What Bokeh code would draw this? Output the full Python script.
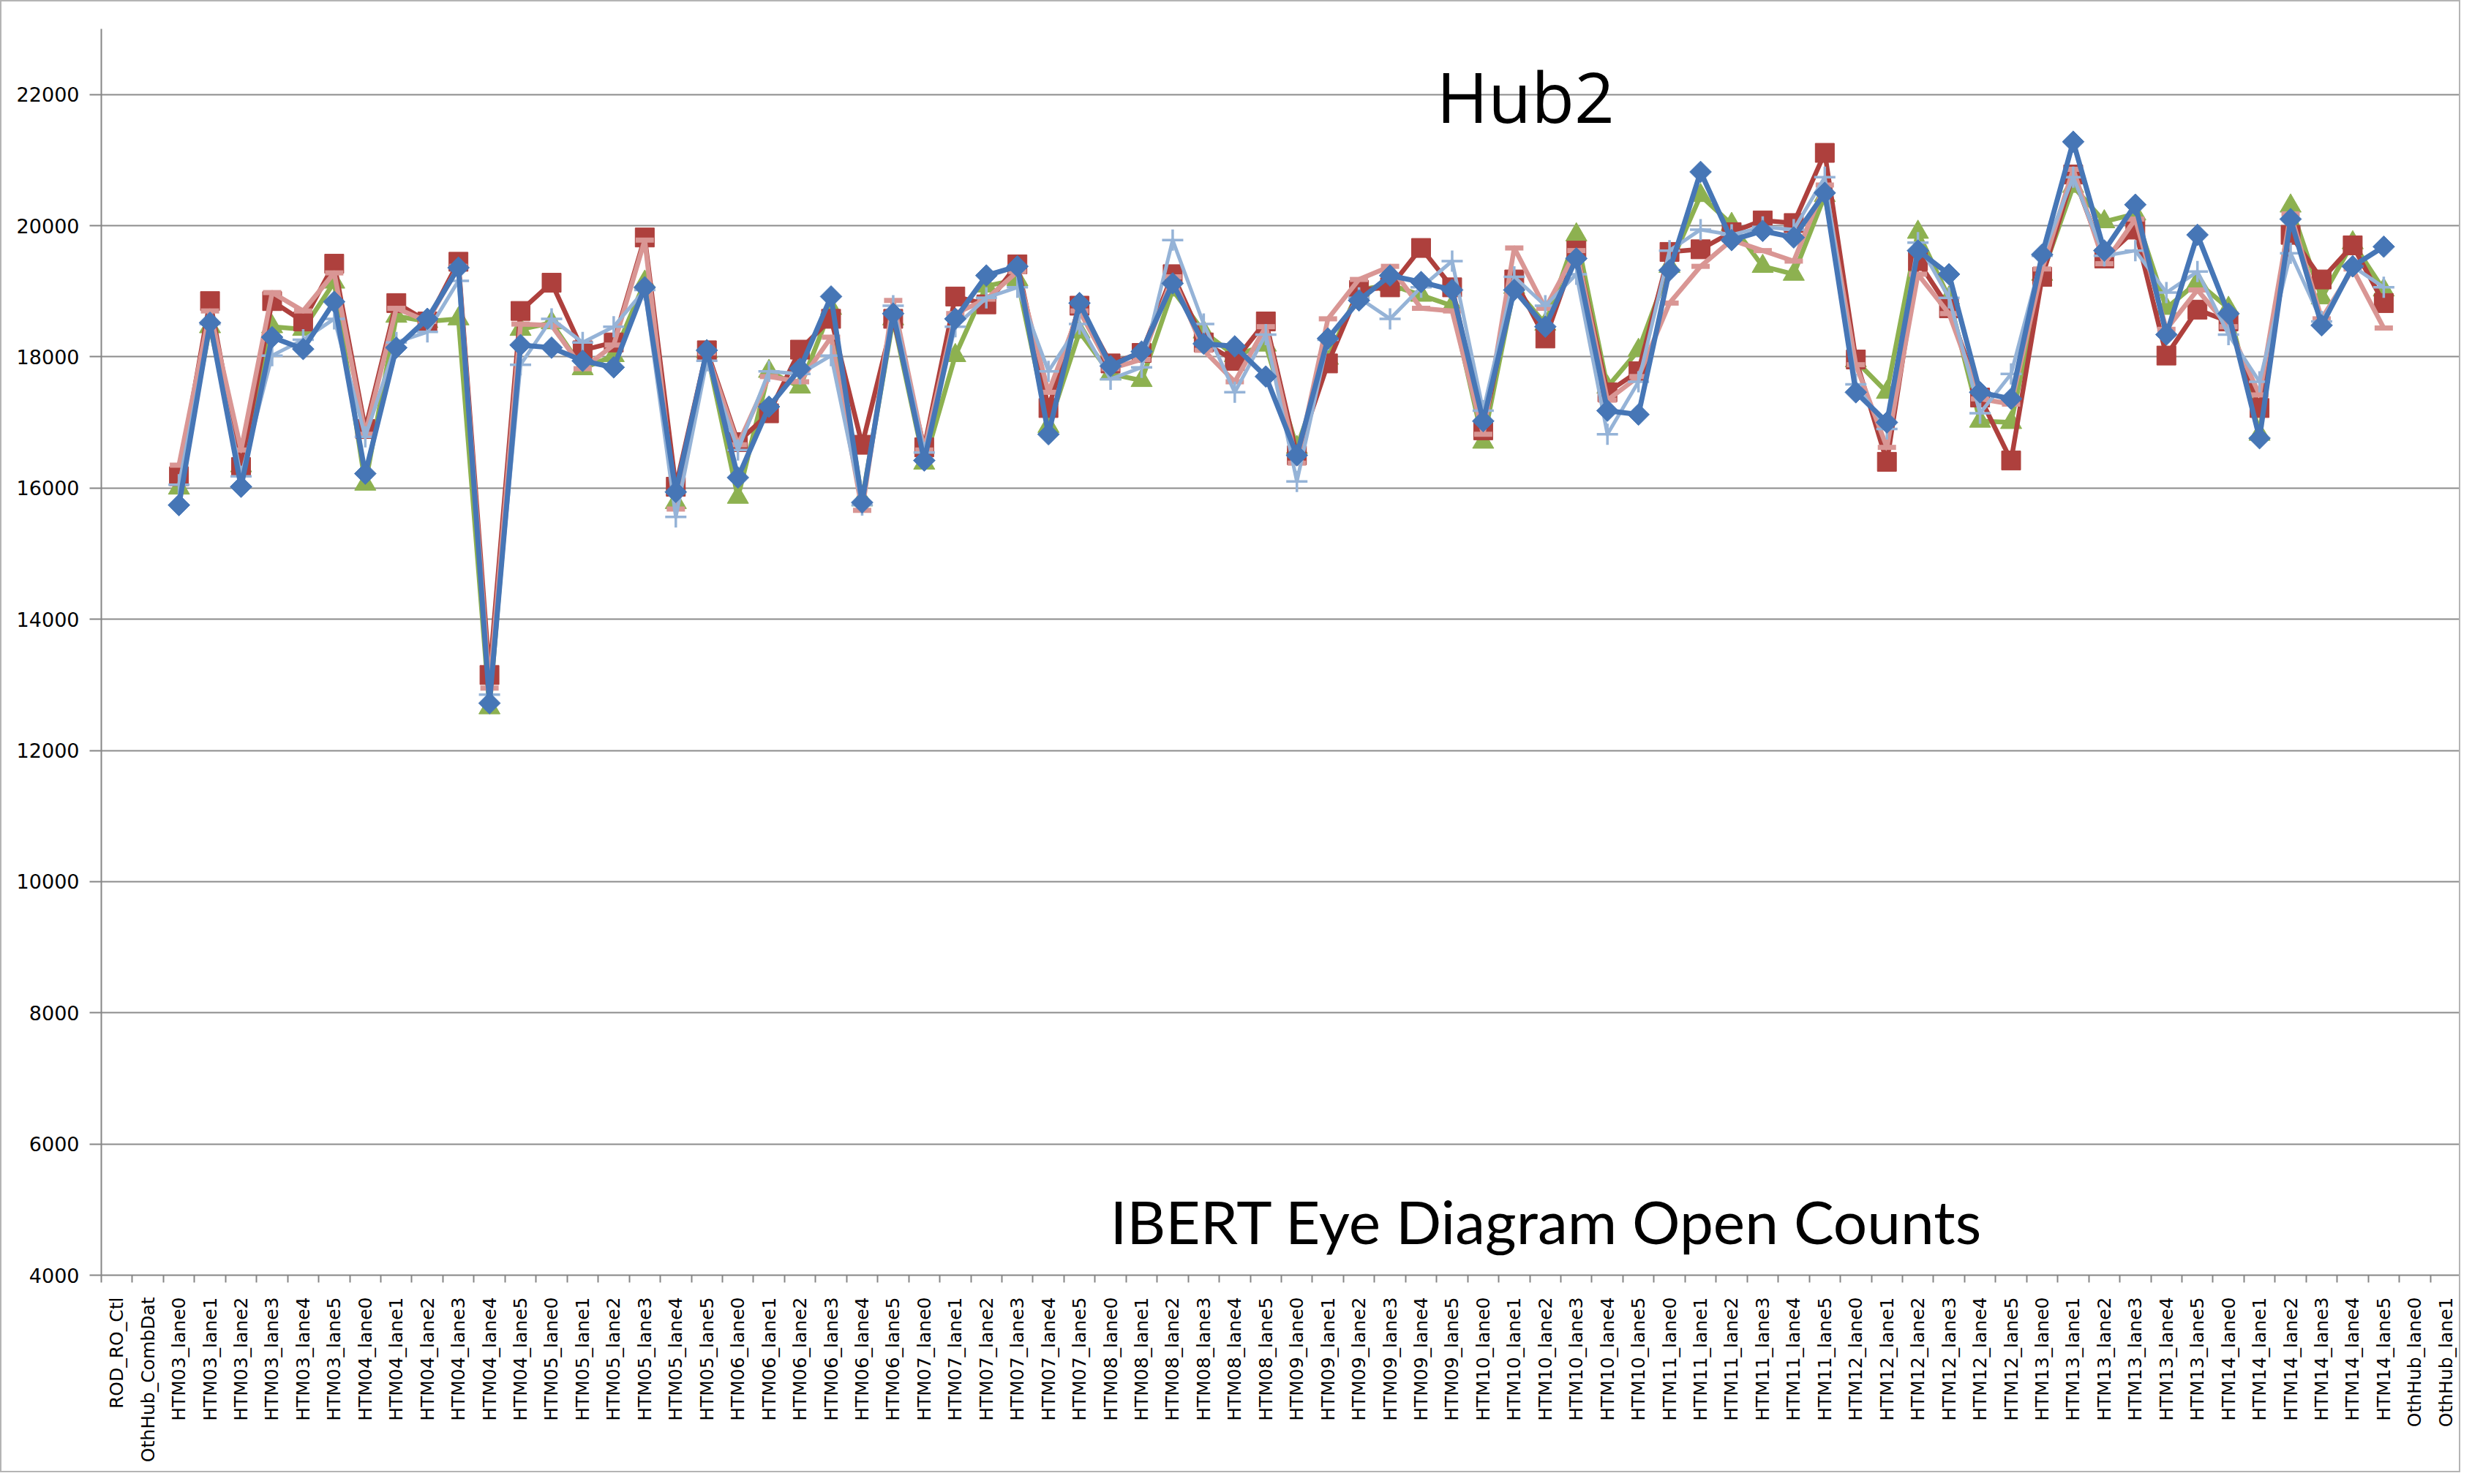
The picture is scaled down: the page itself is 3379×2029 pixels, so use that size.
import numpy as np
from math import pi
from bokeh.plotting import figure
from bokeh.models import Range1d, FixedTicker, Label, ColumnDataSource
from bokeh.embed import file_html
from bokeh.resources import INLINE

# ---------------- data ----------------
modules = ["HTM03", "HTM04", "HTM05", "HTM06", "HTM07", "HTM08",
           "HTM09", "HTM10", "HTM11", "HTM12", "HTM13", "HTM14"]
lanes = ["lane0", "lane1", "lane2", "lane3", "lane4", "lane5"]
categories = (["ROD_RO_Ctl", "OthHub_CombDat"]
              + [f"{m}_{l}" for m in modules for l in lanes]
              + ["OthHub_lane0", "OthHub_lane1"])

# values for HTM03_lane0 ... HTM14_lane5 (the four other categories are empty)
red_sq = [16180, 18850, 16320, 18850, 18540, 19420,
          16900, 18820, 18540, 19450, 13150, 18700,
          19130, 18100, 18220, 19820, 16020, 18100,
          16700, 17140, 18110, 18580, 16660, 18580,
          16620, 18920, 18800, 19410, 17220, 18780,
          17900, 18060, 19260, 18220, 17940, 18540,
          16500, 17900, 19020, 19060, 19660, 19060,
          16880, 19180, 18280, 19620, 17460, 17780,
          19600, 19640, 19900, 20080, 20040, 21110,
          17960, 16400, 19460, 18740, 17380, 16420,
          19220, 20780, 19500, 19940, 18020, 18720,
          18540, 17220, 19860, 19180, 19700, 18820]
green_tri = [16000, 18460, 16340, 18460, 18420, 19140,
             16060, 18620, 18540, 18580, 12650, 18420,
             18520, 17820, 18020, 19140, 15780, 18080,
             15860, 17780, 17540, 18740, 15820, 18580,
             16380, 18020, 19080, 19180, 16940, 18380,
             17740, 17640, 19020, 18380, 18020, 18180,
             16620, 17980, 19020, 19100, 18940, 18780,
             16700, 19060, 18500, 19860, 17540, 18100,
             19380, 20460, 20020, 19380, 19260, 20460,
             17940, 17460, 19900, 18900, 17020, 17000,
             19260, 20600, 20060, 20180, 18740, 19140,
             18740, 16820, 20300, 18900, 19740, 19020]
blue_dia = [15740, 18520, 16020, 18300, 18120, 18840,
            16220, 18140, 18580, 19360, 12720, 18180,
            18140, 17940, 17840, 19060, 15940, 18100,
            16160, 17240, 17820, 18920, 15780, 18660,
            16420, 18580, 19240, 19380, 16820, 18820,
            17860, 18080, 19120, 18200, 18160, 17700,
            16500, 18280, 18860, 19240, 19140, 19020,
            17020, 19020, 18460, 19500, 17180, 17120,
            19320, 20820, 19780, 19920, 19820, 20500,
            17460, 17000, 19620, 19260, 17460, 17360,
            19560, 21280, 19620, 20320, 18340, 19860,
            18660, 16760, 20100, 18480, 19380, 19680]
pink_dash = [16350, 18700, 16580, 18980, 18700, 19280,
             16820, 18740, 18540, 19380, 12950, 18500,
             18480, 17820, 18180, 19780, 15680, 18060,
             16660, 17700, 17620, 18300, 15660, 18860,
             16580, 18660, 18880, 19300, 17460, 18700,
             17820, 17960, 19220, 18100, 17620, 18460,
             16380, 18580, 19180, 19380, 18740, 18700,
             16820, 19660, 18740, 19620, 17340, 17700,
             18820, 19380, 19780, 19620, 19460, 20620,
             17880, 16620, 19260, 18660, 17360, 17280,
             19340, 20860, 19420, 20100, 18420, 19020,
             18460, 17420, 20180, 18580, 19340, 18440]
lightblue_plus = [16050, 18500, 16180, 18020, 18260, 18580,
                  16780, 18220, 18380, 19160, 12850, 17880,
                  18580, 18220, 18460, 19020, 15560, 17940,
                  16580, 17780, 17740, 18020, 15740, 18780,
                  16540, 18460, 18900, 19060, 17780, 18500,
                  17660, 17840, 19780, 18500, 17460, 18340,
                  16100, 18260, 18900, 18580, 19060, 19460,
                  17180, 19220, 18780, 19260, 16820, 17620,
                  19620, 19940, 19860, 19980, 19940, 20740,
                  17580, 16900, 19740, 18900, 17140, 17740,
                  19540, 20740, 19540, 19620, 18980, 19300,
                  18340, 17620, 19580, 18540, 19380, 19060]

y_ticks = [4000, 6000, 8000, 10000, 12000, 14000, 16000, 18000, 20000, 22000]
title_text = "Hub2"
subtitle_text = "IBERT Eye Diagram Open Counts"

# ---------------- figure ----------------
n = len(categories)
xc = np.arange(n) + 0.5


def full(vals):
    return np.array([np.nan, np.nan] + vals + [np.nan, np.nan], dtype=float)


p = figure(width=3363, height=2013, output_backend="svg", toolbar_location=None,
           x_range=Range1d(0, n), y_range=Range1d(4000, 23000),
           min_border_left=136, min_border_top=37, min_border_right=1,
           min_border_bottom=272, background_fill_color="white",
           border_fill_color="white")
p.outline_line_color = None
p.styles = {"border": "2px solid #b4b4b4"}

# axes
xa = p.xaxis[0]
xa.ticker = FixedTicker(ticks=list(xc), minor_ticks=list(np.arange(n + 1)))
xa.major_label_overrides = {float(x): c for x, c in zip(xc, categories)}
xa.major_label_orientation = pi / 2
xa.major_tick_out = 0
xa.major_tick_in = 0
xa.minor_tick_out = 10
xa.minor_tick_in = 0
xa.minor_tick_line_color = "#868686"
xa.minor_tick_line_width = 2
xa.axis_line_color = "#868686"
xa.axis_line_width = 2
xa.major_label_standoff = 20
xa.major_label_text_font = "DejaVu Sans"
xa.major_label_text_font_size = "25px"
xa.major_label_text_color = "black"

ya = p.yaxis[0]
ya.ticker = FixedTicker(ticks=y_ticks)
ya.major_tick_out = 16
ya.major_tick_in = 0
ya.minor_tick_out = 0
ya.minor_tick_in = 0
ya.major_tick_line_color = "#868686"
ya.major_tick_line_width = 2
ya.axis_line_color = "#868686"
ya.axis_line_width = 2
ya.major_label_standoff = 14
ya.major_label_text_font = "DejaVu Sans"
ya.major_label_text_font_size = "27px"
ya.major_label_text_color = "black"

p.xgrid.visible = False
p.ygrid.ticker = FixedTicker(ticks=y_ticks[1:])
p.ygrid.grid_line_color = "#8c8c8c"
p.ygrid.grid_line_width = 2

# series
series = [
    ("green", green_tri, "#8db150", "triangle", 29, 6.5),
    ("red", red_sq, "#ae403d", "square", 26, 6.5),
    ("pink", pink_dash, "#d99694", "dash", 25, 6.5),
    ("lightblue", lightblue_plus, "#95b3d7", "cross", 29, 5),
    ("blue", blue_dia, "#4676b6", "square", 21, 7),
]
for name, vals, col, mk, sz, lw in series:
    src = ColumnDataSource(dict(x=xc, y=full(vals)))
    p.line("x", "y", source=src, line_color=col, line_width=lw, line_join="round")
    if mk == "dash":
        p.scatter("x", "y", source=src, marker="dash", size=sz, line_color=col, line_width=7)
    elif mk == "cross":
        p.scatter("x", "y", source=src, marker="cross", size=sz, line_color=col, line_width=3.5)
    elif name == "blue":
        p.scatter("x", "y", source=src, marker="square", angle=pi / 4, size=sz,
                  fill_color=col, line_color=col)
    else:
        p.scatter("x", "y", source=src, marker=mk, size=sz, fill_color=col, line_color=col)

p.add_layout(Label(x=45.86, y=21980, text=title_text, text_align="center",
                   text_baseline="alphabetic", text_font="Open Sans",
                   text_font_size="96px", text_color="#000000"))
p.add_layout(Label(x=46.54, y=4830, text=subtitle_text, text_align="center",
                   text_baseline="alphabetic", text_font="Lato",
                   text_font_size="82px", text_color="#000000"))

open("out.html", "w").write(file_html(p, INLINE))
